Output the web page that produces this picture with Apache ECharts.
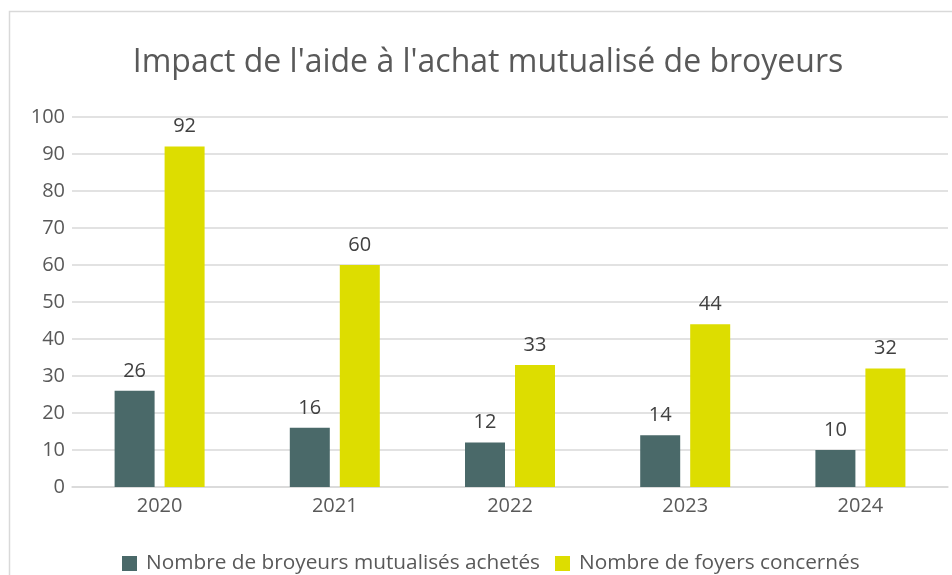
<!DOCTYPE html>
<html>
<head>
<meta charset="utf-8">
<script src="https://cdn.jsdelivr.net/npm/echarts@6/dist/echarts.min.js"></script>
<style>
  html, body { margin: 0; padding: 0; background: #fff; }
  #main { width: 952px; height: 575px; }
</style>
</head>
<body>
<div id="main"></div>
<script>
var years = ['2020', '2021', '2022', '2023', '2024'];
var broyeurs = [26, 16, 12, 14, 10];
var foyers = [92, 60, 33, 44, 32];
var yTicks = [0, 100, 10]; // min, max, interval

var myChart = echarts.init(document.getElementById('main'));
var font = 'Open Sans';
var option = {
  backgroundColor: '#fff',
  textStyle: { fontFamily: font },
  graphic: [{
    type: 'rect',
    shape: { x: 9.5, y: 11.5, width: 980, height: 620 },
    style: { fill: 'none', stroke: '#d9d9d9', lineWidth: 1.5 },
    silent: true
  }],
  title: {
    text: "Impact de l'aide à l'achat mutualisé de broyeurs",
    left: 483,
    textAlign: 'center',
    top: 42,
    textStyle: { fontFamily: font, fontSize: 32, fontWeight: 'normal', color: '#595959' }
  },
  grid: { left: 72, right: 4, top: 117, bottom: 88, containLabel: false },
  legend: {
    bottom: -4,
    left: 117,
    itemWidth: 15,
    itemHeight: 15,
    itemGap: 15,
    icon: 'rect',
    textStyle: { fontFamily: font, fontSize: 20.8, color: '#595959', padding: [0, 0, 0, 4] },
    data: ['Nombre de broyeurs mutualisés achetés', 'Nombre de foyers concernés']
  },
  xAxis: {
    type: 'category',
    data: years,
    axisTick: { show: false },
    axisLine: { lineStyle: { color: '#d9d9d9', width: 1.5 } },
    axisLabel: { fontFamily: font, fontSize: 20, color: '#595959', margin: 9 }
  },
  yAxis: {
    type: 'value',
    min: yTicks[0],
    max: yTicks[1],
    interval: yTicks[2],
    axisLine: { show: false },
    axisTick: { show: false },
    axisLabel: { fontFamily: font, fontSize: 20, color: '#595959', margin: 7 },
    splitLine: { lineStyle: { color: '#d9d9d9', width: 1.5 } }
  },
  series: [
    {
      name: 'Nombre de broyeurs mutualisés achetés',
      type: 'bar',
      data: broyeurs,
      barWidth: 40,
      barGap: '25%',
      itemStyle: { color: '#4a6969' },
      label: { show: true, position: 'top', distance: 10, fontFamily: font, fontSize: 20, color: '#404040' }
    },
    {
      name: 'Nombre de foyers concernés',
      type: 'bar',
      data: foyers,
      barWidth: 40,
      barGap: '25%',
      itemStyle: { color: '#dddd00' },
      label: { show: true, position: 'top', distance: 10, fontFamily: font, fontSize: 20, color: '#404040' }
    }
  ]
};
myChart.setOption(option);

window.addEventListener('resize', function(){
  myChart.resize()
})
</script>
</body>
</html>
